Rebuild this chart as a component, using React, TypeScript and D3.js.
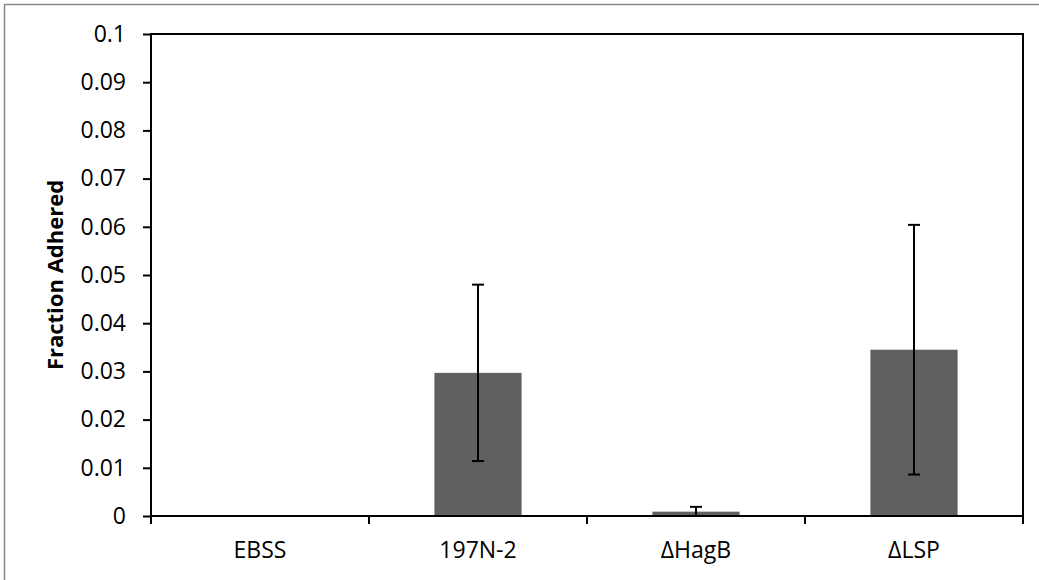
import { useEffect, useRef } from 'react'
import * as d3 from 'd3'

// values
const categories = ['EBSS', '197N-2', 'ΔHagB', 'ΔLSP']
const means = [0.00005, 0.0297, 0.0009, 0.0345]
const errors = [0, 0.0183, 0.001, 0.0259]
const yTicks = [0, 0.01, 0.02, 0.03, 0.04, 0.05, 0.06, 0.07, 0.08, 0.09, 0.1]

const width = 1039
const height = 580
const margin = { top: 34, right: 16, bottom: 64, left: 151 }
const font = '"Open Sans", Lato, sans-serif'

export default function App() {
  const svgRef = useRef<SVGSVGElement>(null)

  useEffect(() => {
    if (!svgRef.current) return
    const svg = d3.select(svgRef.current)
    svg.selectAll('*').remove()

    const x0 = margin.left
    const x1 = width - margin.right
    const y0 = height - margin.bottom
    const y1 = margin.top

    const x = d3.scaleBand().domain(categories).range([x0, x1]).paddingInner(0.6).paddingOuter(0.3)
    const y = d3.scaleLinear().domain([0, 0.1]).range([y0, y1])
    const step = (x1 - x0) / categories.length

    // outer chart frame (runs off the bottom/right of the picture)
    svg.append('rect')
      .attr('x', 4.5).attr('y', 4.5)
      .attr('width', width + 20).attr('height', height + 20)
      .attr('fill', '#fff').attr('stroke', '#888').attr('stroke-width', 1.5)

    // bars
    svg.append('g')
      .selectAll('rect')
      .data(categories)
      .join('rect')
      .attr('x', d => x(d)!)
      .attr('width', x.bandwidth())
      .attr('y', (d, i) => y(means[i]))
      .attr('height', (d, i) => y0 - y(means[i]))
      .attr('fill', '#606060')

    // error bars
    const eb = svg.append('g').attr('stroke', '#000').attr('stroke-width', 2)
    categories.forEach((c, i) => {
      if (!errors[i]) return
      const cx = x(c)! + x.bandwidth() / 2
      const hi = y(means[i] + errors[i])
      const lo = y(Math.max(0, means[i] - errors[i]))
      eb.append('line').attr('x1', cx).attr('x2', cx).attr('y1', hi).attr('y2', lo)
      eb.append('line').attr('x1', cx - 6).attr('x2', cx + 6).attr('y1', hi).attr('y2', hi)
      eb.append('line').attr('x1', cx - 6).attr('x2', cx + 6).attr('y1', lo).attr('y2', lo)
    })

    // plot border
    svg.append('rect')
      .attr('x', x0).attr('y', y1)
      .attr('width', x1 - x0).attr('height', y0 - y1)
      .attr('fill', 'none').attr('stroke', '#000').attr('stroke-width', 2)

    // y axis
    const yAxis = svg.append('g')
      .attr('transform', `translate(${x0},0)`)
      .call(d3.axisLeft(y).tickValues(yTicks).tickSize(8).tickPadding(17).tickFormat(d => String(d)))
    yAxis.select('.domain').remove()
    yAxis.selectAll('line').attr('stroke', '#000').attr('stroke-width', 2)
    yAxis.selectAll('text')
      .attr('fill', '#000')
      .style('font-family', font)
      .style('font-size', '23px')

    // x axis ticks at category boundaries
    const bounds = d3.range(categories.length + 1).map(i => x0 + i * step)
    svg.append('g')
      .selectAll('line')
      .data(bounds)
      .join('line')
      .attr('x1', d => d).attr('x2', d => d)
      .attr('y1', y0).attr('y2', y0 + 8)
      .attr('stroke', '#000').attr('stroke-width', 2)

    svg.append('g')
      .selectAll('text')
      .data(categories)
      .join('text')
      .attr('x', d => x(d)! + x.bandwidth() / 2)
      .attr('y', y0 + 42)
      .attr('text-anchor', 'middle')
      .style('font-family', font)
      .style('font-size', '23px')
      .text(d => d)

    // y axis title
    svg.append('text')
      .attr('transform', `translate(63,${(y0 + y1) / 2}) rotate(-90)`)
      .attr('text-anchor', 'middle')
      .style('font-family', font)
      .style('font-weight', 'bold')
      .style('font-size', '22px')
      .text('Fraction Adhered')
  }, [])

  return (
    <svg
      ref={svgRef}
      width={width}
      height={height}
      style={{ position: 'absolute', left: 0, top: 0, background: '#fff' }}
    />
  )
}
